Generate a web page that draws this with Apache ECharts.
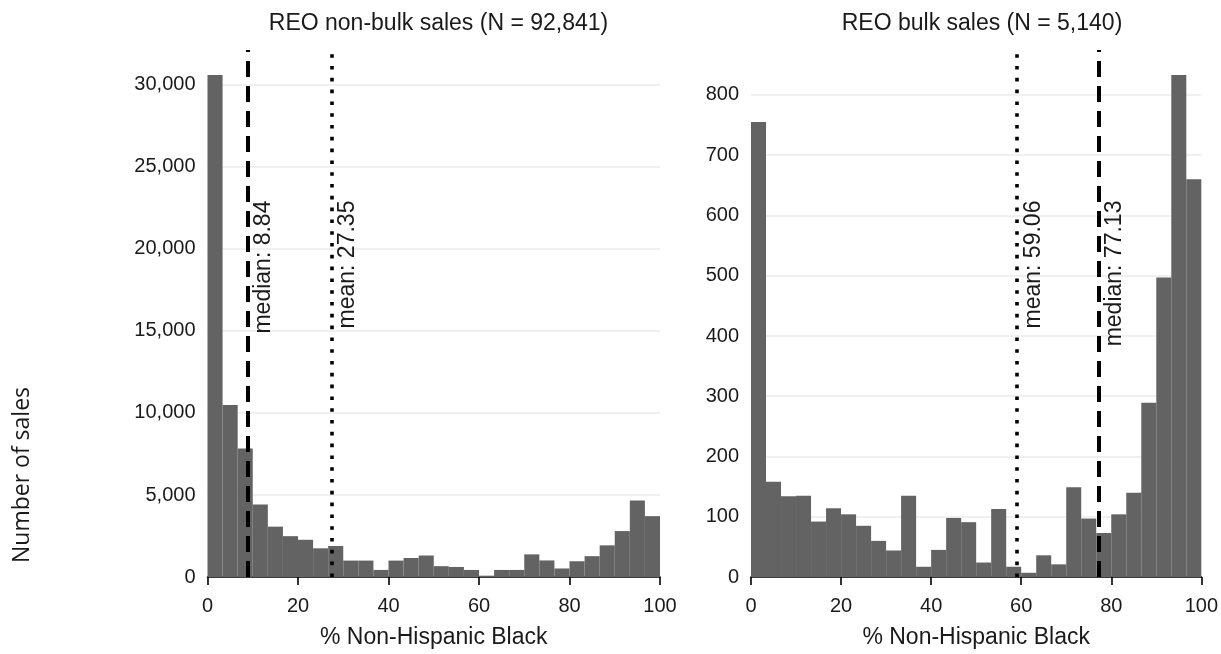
<!DOCTYPE html>
<html><head><meta charset="utf-8">
<script src="https://cdn.jsdelivr.net/npm/echarts@6/dist/echarts.min.js"></script>
<style>html,body{margin:0;padding:0;background:#fff}#c{width:1221px;height:654px}</style>
</head><body><div id="c"></div>
<script>
// ---------- data ----------
const binCount = 30;                       // equal-width bins over 0..100
const nonBulkCounts = [30600, 10480, 7840, 4420, 3070, 2490, 2270, 1750, 1890, 1000,
                       1000, 430, 1000, 1160, 1310, 660, 610, 430, 80, 430,
                       430, 1380, 1010, 520, 960, 1270, 1930, 2800, 4670, 3710];
const bulkCounts = [755, 158, 134, 135, 92, 114, 104, 85, 60, 44,
                    135, 17, 45, 98, 91, 24, 113, 17, 7, 36,
                    21, 149, 97, 73, 104, 140, 289, 497, 833, 660];
const nonBulkTicks = [0, 5000, 10000, 15000, 20000, 25000, 30000];
const bulkTicks = [0, 100, 200, 300, 400, 500, 600, 700, 800];
const xTicks = [0, 20, 40, 60, 80, 100];
const nonBulkStatNames = ['median', 'mean'];
const nonBulkStatValues = [8.84, 27.35];
const bulkStatNames = ['mean', 'median'];
const bulkStatValues = [59.06, 77.13];
const titles = ['REO non-bulk sales (N = 92,841)', 'REO bulk sales (N = 5,140)'];
const xTitle = '% Non-Hispanic Black';
const yTitle = 'Number of sales';

// ---------- build ----------
const FONT = '"Liberation Sans", Arial, sans-serif';
const TXT = '#1a1a1a';
function binsOf(counts){
  const w = 100 / counts.length;
  return counts.map((c, i) => [i * w, (i + 1) * w, c]);
}
function renderBar(params, api){
  const p0 = api.coord([api.value(0), api.value(2)]);
  const p1 = api.coord([api.value(1), 0]);
  return {type: 'rect',
    shape: {x: p0[0], y: p0[1], width: p1[0] - p0[0], height: p1[1] - p0[1]},
    style: {fill: '#636363'}};
}
const styleFor = name => name === 'median'
  ? {color: '#000', width: 4, type: [16, 9], cap: 'butt'}
  : {color: '#000', width: 3.6, type: [3.6, 8.2], cap: 'butt'};

const grids = [
  {left: 207.5, right: 561, top: 50, bottom: 76},
  {left: 751, right: 17.5, top: 50, bottom: 76}
];
const sets = [
  {counts: nonBulkCounts, ticks: nonBulkTicks, names: nonBulkStatNames, vals: nonBulkStatValues},
  {counts: bulkCounts, ticks: bulkTicks, names: bulkStatNames, vals: bulkStatValues}
];

const option = {
  animation: false,
  backgroundColor: '#fff',
  title: titles.map((t, i) => ({
    text: t, left: i === 0 ? 433.5 : 977, top: 7, textAlign: 'center',
    textStyle: {fontFamily: FONT, fontSize: 23, fontWeight: 'normal', color: TXT}
  })),
  grid: grids,
  xAxis: sets.map((s, i) => ({
    type: 'value', gridIndex: i, min: 0, max: 100, interval: 20,
    name: xTitle, nameLocation: 'middle', nameGap: 49,
    nameTextStyle: {fontFamily: FONT, fontSize: 23, color: TXT, verticalAlign: 'top'},
    axisLine: {show: true, onZero: false, lineStyle: {color: '#000', width: 1.6}},
    axisTick: {show: true, length: 8, lineStyle: {color: '#000', width: 1.6}},
    axisLabel: {fontFamily: FONT, fontSize: 20, color: TXT, margin: 19,
                customValues: xTicks},
    splitLine: {show: false}
  })),
  yAxis: sets.map((s, i) => ({
    type: 'value', gridIndex: i, min: 0,
    max: Math.max(...s.counts) * 1.05,
    axisLine: {show: false},
    axisTick: {show: false, customValues: s.ticks},
    axisLabel: {fontFamily: FONT, fontSize: 20, color: TXT, margin: 12,
                customValues: s.ticks,
                formatter: v => Number(v).toLocaleString('en-US')},
    splitLine: {show: true, lineStyle: {color: '#ebebeb', width: 1.5}}
  })),
  series: sets.map((s, i) => ({
    type: 'custom', xAxisIndex: i, yAxisIndex: i,
    data: binsOf(s.counts),
    encode: {x: [0, 1], y: 2},
    renderItem: renderBar,
    markLine: {
      silent: true, symbol: ['none', 'none'], z: 10,
      label: {show: false},
      data: s.vals.map((v, k) => ({xAxis: v, lineStyle: styleFor(s.names[k])}))
    }
  }))
};

const chart = echarts.init(document.getElementById('c'), null, {renderer: 'canvas'});
chart.setOption(option);

// labels for the vertical reference lines, placed through the axes' scales
const graphics = [];
sets.forEach((s, i) => {
  const yLab = Math.max(...s.counts) * 0.75;
  s.vals.forEach((v, k) => {
    const p = chart.convertToPixel({xAxisIndex: i, yAxisIndex: i}, [v, yLab]);
    graphics.push({
      type: 'text', x: p[0] + 5, y: p[1], rotation: Math.PI / 2, z: 20,
      style: {text: s.names[k] + ': ' + v.toFixed(2), font: '23px ' + FONT,
              fill: TXT, align: 'right', verticalAlign: 'top'}
    });
  });
});
graphics.push({
  type: 'text', x: 22, y: 475, rotation: Math.PI / 2,
  style: {text: yTitle, font: '23px "Open Sans", "Noto Sans", sans-serif',
          fill: TXT, align: 'center', verticalAlign: 'middle'}
});
chart.setOption({graphic: graphics});
</script>
</body></html>
